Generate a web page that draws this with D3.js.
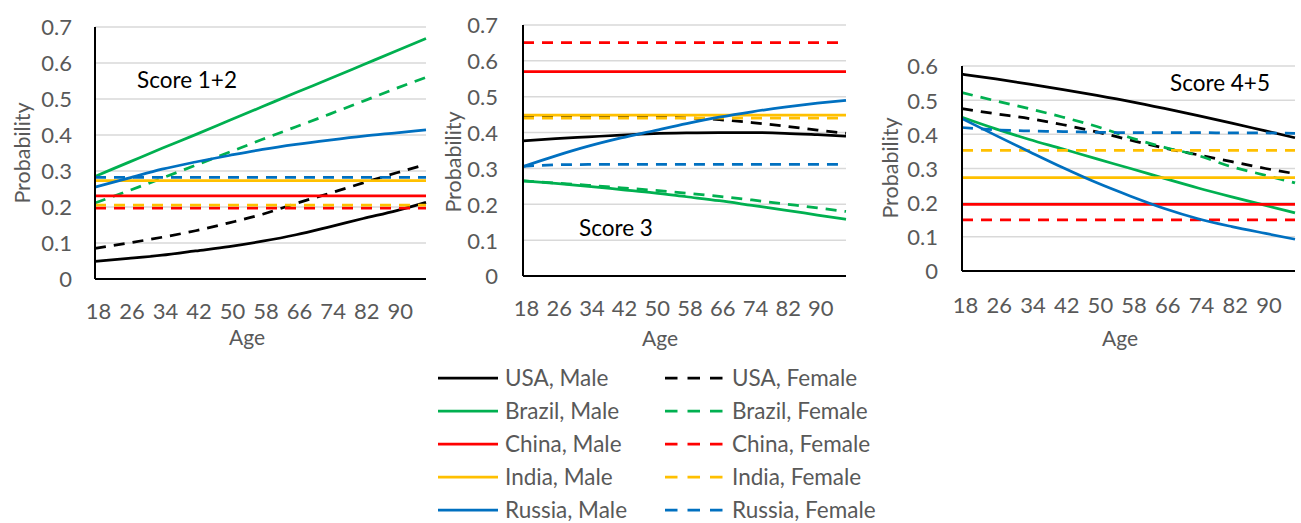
<!DOCTYPE html>
<html><head><meta charset="utf-8">
<script src="https://cdn.jsdelivr.net/npm/d3@7/dist/d3.min.js"></script>
<style>
html,body{margin:0;padding:0;background:#fff;}
svg{display:block;font-family:Lato,"Open Sans",sans-serif;}
</style></head>
<body><svg id="c" width="1301" height="523"></svg>
<script>
// ---- data ----
const ages = [18, 26, 34, 42, 50, 58, 66, 74, 82, 90, 97];
const ageTicks = [18, 26, 34, 42, 50, 58, 66, 74, 82, 90];
const countries = ["USA", "Brazil", "China", "India", "Russia"];
const countryColors = ["#000000", "#00B050", "#FF0000", "#FFC000", "#0070C0"];
const sexes = ["Male", "Female"];
const panelTitles = ["Score 1+2", "Score 3", "Score 4+5"];
const yTicks12 = [0, 0.1, 0.2, 0.3, 0.4, 0.5, 0.6, 0.7];
const yTicks3 = [0, 0.1, 0.2, 0.3, 0.4, 0.5, 0.6, 0.7];
const yTicks45 = [0, 0.1, 0.2, 0.3, 0.4, 0.5, 0.6];

// Score 1+2
const s12_USA_Male      = [0.049, 0.057, 0.066, 0.078, 0.090, 0.105, 0.123, 0.145, 0.168, 0.190, 0.213];
const s12_USA_Female    = [0.085, 0.100, 0.116, 0.134, 0.156, 0.180, 0.210, 0.238, 0.267, 0.295, 0.318];
const s12_Brazil_Male   = [0.285, 0.324, 0.363, 0.401, 0.440, 0.479, 0.518, 0.556, 0.595, 0.634, 0.668];
const s12_Brazil_Female = [0.211, 0.245, 0.280, 0.316, 0.352, 0.388, 0.423, 0.458, 0.494, 0.530, 0.560];
const s12_China_Male    = [0.231, 0.231, 0.231, 0.231, 0.231, 0.231, 0.231, 0.231, 0.231, 0.231, 0.231];
const s12_China_Female  = [0.197, 0.197, 0.197, 0.197, 0.197, 0.197, 0.197, 0.197, 0.197, 0.197, 0.197];
const s12_India_Male    = [0.273, 0.273, 0.273, 0.273, 0.273, 0.273, 0.273, 0.273, 0.273, 0.273, 0.273];
const s12_India_Female  = [0.205, 0.205, 0.205, 0.205, 0.205, 0.205, 0.205, 0.205, 0.205, 0.205, 0.205];
const s12_Russia_Male   = [0.255, 0.280, 0.305, 0.325, 0.343, 0.360, 0.374, 0.386, 0.397, 0.406, 0.414];
const s12_Russia_Female = [0.282, 0.282, 0.282, 0.282, 0.282, 0.282, 0.282, 0.282, 0.282, 0.282, 0.282];

// Score 3
const s3_USA_Male      = [0.377, 0.383, 0.388, 0.393, 0.397, 0.399, 0.400, 0.400, 0.398, 0.394, 0.390];
const s3_USA_Female    = [0.444, 0.445, 0.445, 0.445, 0.444, 0.441, 0.436, 0.428, 0.418, 0.407, 0.398];
const s3_Brazil_Male   = [0.265, 0.258, 0.250, 0.241, 0.232, 0.221, 0.210, 0.197, 0.184, 0.170, 0.158];
const s3_Brazil_Female = [0.265, 0.259, 0.253, 0.246, 0.239, 0.231, 0.222, 0.212, 0.201, 0.190, 0.180];
const s3_China_Male    = [0.570, 0.570, 0.570, 0.570, 0.570, 0.570, 0.570, 0.570, 0.570, 0.570, 0.570];
const s3_China_Female  = [0.651, 0.651, 0.651, 0.651, 0.651, 0.651, 0.651, 0.651, 0.651, 0.651, 0.651];
const s3_India_Male    = [0.449, 0.449, 0.449, 0.449, 0.449, 0.449, 0.449, 0.449, 0.449, 0.449, 0.449];
const s3_India_Female  = [0.440, 0.440, 0.440, 0.440, 0.440, 0.440, 0.440, 0.440, 0.440, 0.440, 0.440];
const s3_Russia_Male   = [0.305, 0.335, 0.362, 0.385, 0.405, 0.425, 0.443, 0.458, 0.471, 0.482, 0.490];
const s3_Russia_Female = [0.306, 0.310, 0.311, 0.311, 0.311, 0.311, 0.311, 0.311, 0.311, 0.311, 0.311];

// Score 4+5
const s45_USA_Male      = [0.576, 0.562, 0.547, 0.531, 0.514, 0.496, 0.476, 0.455, 0.433, 0.410, 0.390];
const s45_USA_Female    = [0.475, 0.460, 0.446, 0.428, 0.407, 0.383, 0.360, 0.340, 0.320, 0.300, 0.285];
const s45_Brazil_Male   = [0.450, 0.416, 0.385, 0.357, 0.328, 0.300, 0.271, 0.243, 0.217, 0.192, 0.170];
const s45_Brazil_Female = [0.522, 0.498, 0.475, 0.450, 0.423, 0.390, 0.362, 0.338, 0.305, 0.280, 0.258];
const s45_China_Male    = [0.195, 0.195, 0.195, 0.195, 0.195, 0.195, 0.195, 0.195, 0.195, 0.195, 0.195];
const s45_China_Female  = [0.150, 0.150, 0.150, 0.150, 0.150, 0.150, 0.150, 0.150, 0.150, 0.150, 0.150];
const s45_India_Male    = [0.273, 0.273, 0.273, 0.273, 0.273, 0.273, 0.273, 0.273, 0.273, 0.273, 0.273];
const s45_India_Female  = [0.353, 0.353, 0.353, 0.353, 0.353, 0.353, 0.353, 0.353, 0.353, 0.353, 0.353];
const s45_Russia_Male   = [0.446, 0.397, 0.349, 0.302, 0.258, 0.219, 0.183, 0.153, 0.130, 0.110, 0.093];
const s45_Russia_Female = [0.420, 0.413, 0.410, 0.408, 0.406, 0.405, 0.405, 0.405, 0.404, 0.404, 0.403];

// ---- build ----
const panelSeries = [
  {USA:[s12_USA_Male,s12_USA_Female], Brazil:[s12_Brazil_Male,s12_Brazil_Female], China:[s12_China_Male,s12_China_Female], India:[s12_India_Male,s12_India_Female], Russia:[s12_Russia_Male,s12_Russia_Female]},
  {USA:[s3_USA_Male,s3_USA_Female], Brazil:[s3_Brazil_Male,s3_Brazil_Female], China:[s3_China_Male,s3_China_Female], India:[s3_India_Male,s3_India_Female], Russia:[s3_Russia_Male,s3_Russia_Female]},
  {USA:[s45_USA_Male,s45_USA_Female], Brazil:[s45_Brazil_Male,s45_Brazil_Female], China:[s45_China_Male,s45_China_Female], India:[s45_India_Male,s45_India_Female], Russia:[s45_Russia_Male,s45_Russia_Female]}
];
const panelYTicks = [yTicks12, yTicks3, yTicks45];

// layout
const layout = [
  {x0:95,  x1:426,  y0:279, yTop:27, yMax:0.7, tickRight:72,  xLabY:311, ageX:247, ageY:337, probX:22,  probY:153, title:{x:137, y:80}},
  {x0:523, x1:846,  y0:276, yTop:25, yMax:0.7, tickRight:498, xLabY:308, ageX:660, ageY:338, probX:453, probY:162, title:{x:579, y:228}},
  {x0:962, x1:1295, y0:271, yTop:66, yMax:0.6, tickRight:938, xLabY:305, ageX:1120,ageY:338, probX:890, probY:168, title:{x:1170,y:83}}
];

const svg = d3.select("#c");
const textGrey = "#595959";
const FS = 22;

layout.forEach((L, pi) => {
  const g = svg.append("g");
  const x = d3.scaleLinear().domain([18, 97]).range([L.x0, L.x1]);
  const y = d3.scaleLinear().domain([0, L.yMax]).range([L.y0, L.yTop]);

  // gridlines
  g.append("g").selectAll("line").data(panelYTicks[pi].filter(d => d > 0)).join("line")
    .attr("x1", L.x0).attr("x2", L.x1)
    .attr("y1", d => y(d)).attr("y2", d => y(d))
    .attr("stroke", "#D9D9D9").attr("stroke-width", 1.5);

  // y axis labels
  const ya = d3.axisLeft(y).tickValues(panelYTicks[pi]).tickSize(0).tickPadding(0)
    .tickFormat(d => d === 0 ? "0" : d3.format(".1f")(d));
  const yg = g.append("g").attr("transform", `translate(${L.tickRight},0)`).call(ya);
  yg.select(".domain").remove();
  yg.selectAll("text").attr("fill", textGrey).style("font-size", FS + "px")
    .style("font-family", "Lato, sans-serif").attr("dy", "0.36em");

  // x axis labels
  const xa = d3.axisBottom(x).tickValues(ageTicks).tickSize(0).tickPadding(0).tickFormat(d3.format("d"));
  const xg = g.append("g").attr("transform", `translate(3,${L.xLabY})`).call(xa);
  xg.select(".domain").remove();
  xg.selectAll("text").attr("fill", textGrey).style("font-size", FS + "px")
    .style("font-family", "Lato, sans-serif").attr("dy", "0.36em");

  // series
  const line = d3.line().x((d, i) => x(ages[i])).y(d => y(d)).curve(d3.curveMonotoneX);
  const series = panelSeries[pi];
  countries.forEach((c, ci) => {
    sexes.forEach((s, si) => {
      g.append("path").attr("d", line(series[c][si]))
        .attr("fill", "none").attr("stroke", countryColors[ci])
        .attr("stroke-width", 2.75)
        .attr("stroke-dasharray", si === 1 ? "11,8" : null);
    });
  });

  // axis lines
  g.append("line").attr("x1", L.x0).attr("x2", L.x0).attr("y1", L.yTop).attr("y2", L.y0)
    .attr("stroke", "#000").attr("stroke-width", 2);
  g.append("line").attr("x1", L.x0).attr("x2", L.x1).attr("y1", L.y0).attr("y2", L.y0)
    .attr("stroke", "#000").attr("stroke-width", 2);

  // axis titles
  g.append("text").attr("x", L.ageX).attr("y", L.ageY).attr("text-anchor", "middle")
    .attr("dy", "0.36em").attr("fill", textGrey).style("font-size", "21px").text("Age");
  g.append("text").attr("transform", `translate(${L.probX},${L.probY}) rotate(-90)`)
    .attr("text-anchor", "middle").attr("dy", "0.36em").attr("fill", textGrey)
    .style("font-size", "21.5px").text("Probability");

  // panel title
  g.append("text").attr("x", L.title.x).attr("y", L.title.y).attr("dy", "0.36em")
    .attr("fill", "#000").style("font-size", "22.5px").text(panelTitles[pi]);
});

// legend
const leg = svg.append("g");
const rowY = [378, 411, 444, 477, 510];
countries.forEach((c, ci) => {
  sexes.forEach((s, si) => {
    const lx = si === 0 ? 438 : 665;
    const lw = si === 0 ? 60 : 59;
    leg.append("line").attr("x1", lx).attr("x2", lx + lw).attr("y1", rowY[ci]).attr("y2", rowY[ci])
      .attr("stroke", countryColors[ci]).attr("stroke-width", 2.75)
      .attr("stroke-dasharray", si === 1 ? "12.5,10" : null);
    leg.append("text").attr("x", si === 0 ? 505 : 732).attr("y", rowY[ci]).attr("dy", "0.36em")
      .attr("fill", textGrey).style("font-size", "22.5px").text(`${c}, ${s}`);
  });
});
</script></body></html>
